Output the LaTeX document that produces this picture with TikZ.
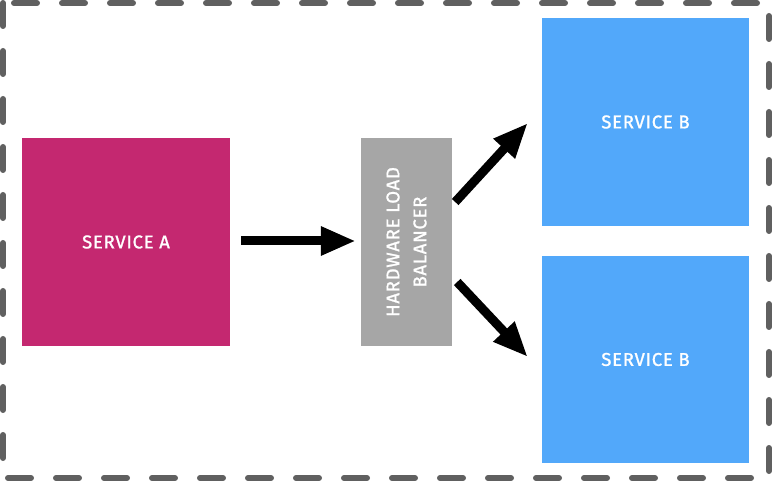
\documentclass[tikz,border=0pt]{standalone}
\usepackage{fontspec}
\setmainfont{Fira Sans}
\newfontfamily\labfont{Fira Sans}[LetterSpace=4, FakeBold=1.3]
\usetikzlibrary{arrows.meta}
\definecolor{svcA}{RGB}{196,40,112}
\definecolor{svcB}{RGB}{82,168,250}
\definecolor{lbgray}{RGB}{166,166,166}
\definecolor{frame}{RGB}{96,96,96}
\tikzset{
  box/.style={draw=none, inner sep=0pt, text=white, font=\labfont\fontsize{18.5}{27}\selectfont, align=center},
  arr/.style={line width=9pt, -{Triangle[length=35pt,width=27pt]}},
  frameline/.style={draw=frame, line width=6pt, line cap=round, dash pattern=on 23pt off 25pt}
}
\begin{document}
\begin{tikzpicture}[x=1pt,y=-1pt]
\useasboundingbox (0,0) rectangle (772,481);
\draw[frameline] (3,3) rectangle (769,478);
\node[box, fill=svcA, minimum width=208pt, minimum height=208pt] (a) at (126,242) {SERVICE A};
\node[box, fill=lbgray, minimum width=91pt, minimum height=208pt] (lb) at (406.5,242) {};
\node[box, rotate=90] (lbt) at (lb.center) {HARDWARE LOAD\\BALANCER};
\node[box, fill=svcB, minimum width=207pt, minimum height=208pt] (b1) at (645.5,122) {SERVICE B};
\node[box, fill=svcB, minimum width=207pt, minimum height=207pt] (b2) at (645.5,359.5) {SERVICE B};
\draw[arr] ([shift={(11,-1)}]a.east) -- ([shift={(-5,-1)}]lb.west);
\draw[arr] ([shift={(3,-40)}]lb.east) -- ([shift={(-14,1)}]b1.west);
\draw[arr] ([shift={(5,40)}]lb.east) -- ([shift={(-14,-2.5)}]b2.west);
\end{tikzpicture}
\end{document}
